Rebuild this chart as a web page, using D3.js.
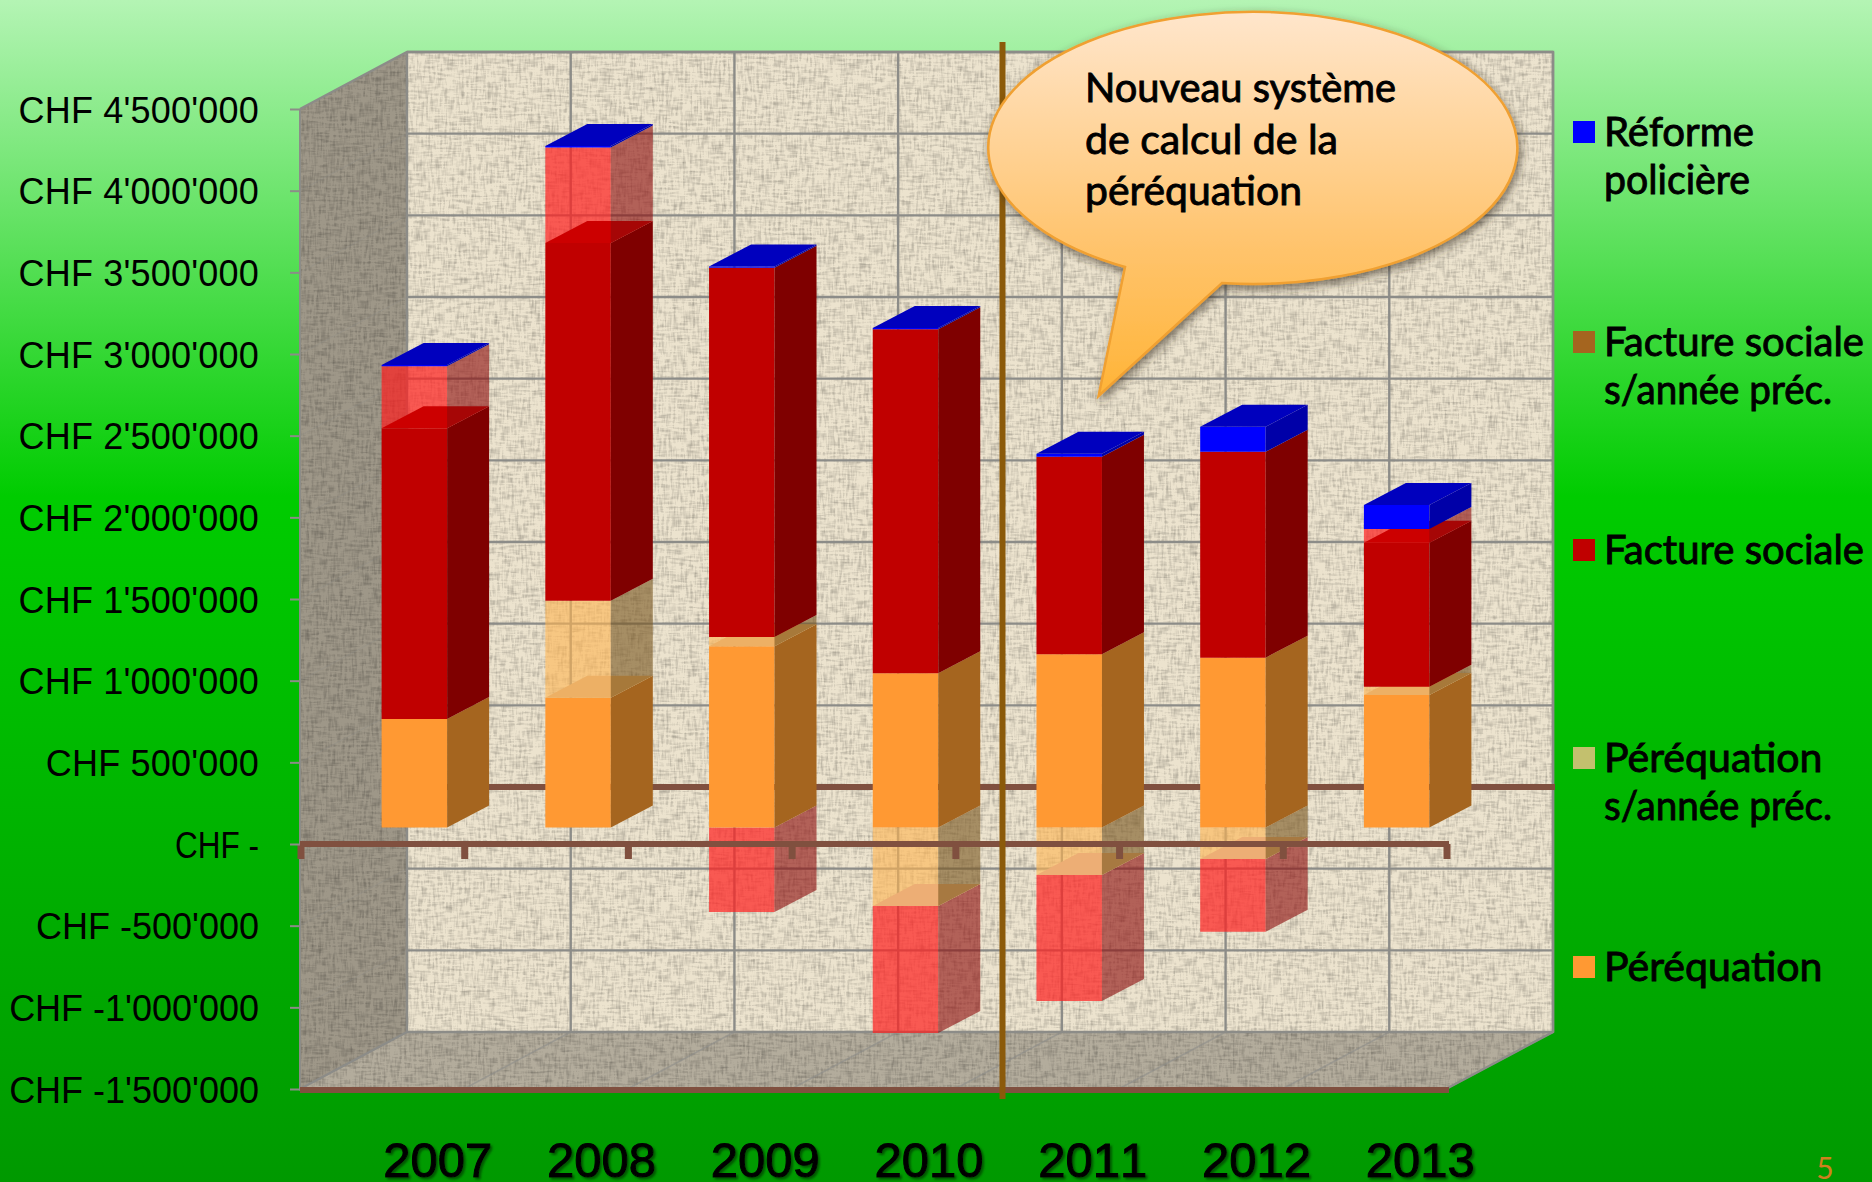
<!DOCTYPE html>
<html><head><meta charset="utf-8">
<script src="https://cdn.jsdelivr.net/npm/d3@7/dist/d3.min.js"></script>
<style>html,body{margin:0;padding:0;overflow:hidden}svg{display:block}</style>
</head><body><svg id="c" width="1872" height="1182"></svg>
<script>
const years = ["2007","2008","2009","2010","2011","2012","2013"];
const perequation      = [664000, 795000, 1110000, 945000, 1060000, 1040000, 811000];
const perequationPrev  = [0, 594000, 57000, -480000, -291000, -193000, 51000];
const factureSociale   = [1780000, 2190000, 2260000, 2105000, 1210000, 1260000, 882000];
const facturePrev      = [380000, 585000, -517000, -778000, -771000, -445000, 84000];
const reforme          = [8000, 8000, 8000, 8000, 18000, 153000, 147000];
const seriesKeys = ["per","perPrev","fac","facPrev","ref"];
const yTicks = [-1500000,-1000000,-500000,0,500000,1000000,1500000,2000000,2500000,3000000,3500000,4000000,4500000];
const legendItems = [
  {lines:["Réforme","policière"], color:"#0000FF", base:146},
  {lines:["Facture sociale","s/année préc."], color:"#A5651F", base:356},
  {lines:["Facture sociale"], color:"#C00000", base:564},
  {lines:["Péréquation","s/année préc."], color:"#C3C06E", base:772},
  {lines:["Péréquation"], color:"#FF9933", base:981}
];
const calloutLines = ["Nouveau système","de calcul de la","péréquation"];
const textWidths = {"Réforme":150,"policière":146,"Facture sociale":260,"s/année préc.":228,"Péréquation":218.5,
  "Nouveau système":311,"de calcul de la":253,"péréquation":217};

const style = {
  per:    {front:"#FF9933", side:"#A5651F", cap:"#EDB065"},
  perPrev:{front:"rgba(255,180,80,.6)", side:"rgba(120,85,30,.6)", cap:"#EDAE75", light:true},
  fac:    {front:"#C00000", side:"#7F0000", cap:"#CC0000"},
  facPrev:{front:"rgba(255,30,30,.7)", side:"rgba(140,10,10,.6)", cap:"#EDAE75", light:true},
  ref:    {front:"#0000FF", side:"#0000A8", cap:"#0000BE"}
};

const svg = d3.select("#c");
const defs = svg.append("defs");
const W=1872,H=1182;

const bg = defs.append("linearGradient").attr("id","bg").attr("x1",0).attr("x2",0).attr("y1",0).attr("y2",1);
[[0,"#B4F4B4"],[.42,"#00CC00"],[1,"#009900"]].forEach(s=>bg.append("stop").attr("offset",s[0]).attr("stop-color",s[1]));
const cg = defs.append("linearGradient").attr("id","cg").attr("x1",0).attr("x2",0).attr("y1",0).attr("y2",1);
[[0,"#FFE6CC"],[.6,"#FFC46E"],[1,"#FFB437"]].forEach(s=>cg.append("stop").attr("offset",s[0]).attr("stop-color",s[1]));

defs.append("filter").attr("id","weave").attr("x",0).attr("y",0).attr("width",1).attr("height",1)
  .attr("color-interpolation-filters","sRGB")
  .html(`<feTurbulence type="fractalNoise" baseFrequency="0.07 0.42" numOctaves="2" seed="3" result="h"/>
  <feTurbulence type="fractalNoise" baseFrequency="0.42 0.07" numOctaves="2" seed="8" result="v"/>
  <feComposite in="h" in2="v" operator="arithmetic" k2=".5" k3=".5" result="n"/>
  <feColorMatrix in="n" type="matrix" values="0.7 0 0 0 .6  0.7 0 0 0 .6  0.7 0 0 0 .6  0 0 0 0 1" result="g"/>
  <feComposite in="SourceGraphic" in2="g" operator="arithmetic" k1="1" result="m"/>
  <feComposite in="m" in2="SourceAlpha" operator="in"/>`);
defs.append("filter").attr("id","shadow").attr("x","-10%").attr("y","-10%").attr("width","120%").attr("height","125%")
  .html(`<feDropShadow dx="2" dy="4" stdDeviation="5" flood-color="#3a3020" flood-opacity=".65"/>`);
defs.append("filter").attr("id","lblShadow").attr("x","-10%").attr("y","-10%").attr("width","120%").attr("height","130%")
  .html(`<feDropShadow dx="2" dy="2" stdDeviation="1" flood-color="#004400" flood-opacity=".8"/>`);

svg.append("rect").attr("width",W).attr("height",H).attr("fill","url(#bg)");

// scales
const x = d3.scaleBand().domain(years).range([300,1446]);
const y = d3.scaleLinear().domain([-1500000,4500000]).range([1089,109]);
const depthX=107, depthY=-57;          // whole floor depth
const barW = x.bandwidth()*0.4, barDX=42, barDY=-22;
const barShiftX=(depthX-barDX)/2, barShiftY=-16.5;
const left=x.range()[0], right=x.range()[1];
const line = d3.line();

// walls
const wy0=y.domain()[0], wy1=y.domain()[1];
const gWalls=svg.append("g");
gWalls.append("path").attr("d",line([[left+depthX,y(wy1)+depthY],[right+depthX,y(wy1)+depthY],[right+depthX,y(wy0)+depthY],[left+depthX,y(wy0)+depthY]])+"Z")
  .attr("fill","#ECE3CE").attr("filter","url(#weave)");
gWalls.append("path").attr("d",line([[left,y(wy1)],[left+depthX,y(wy1)+depthY],[left+depthX,y(wy0)+depthY],[left,y(wy0)]])+"Z")
  .attr("fill","#9E9788").attr("filter","url(#weave)");
gWalls.append("path").attr("d",line([[left,y(wy0)],[right,y(wy0)],[right+depthX,y(wy0)+depthY],[left+depthX,y(wy0)+depthY]])+"Z")
  .attr("fill","#B3AC9C").attr("filter","url(#weave)");

// grid
const gGrid=svg.append("g").attr("fill","none");
yTicks.filter(t=>t!==0).forEach(t=>{
  gGrid.append("path").attr("d",line([[left+depthX,y(t)+depthY],[right+depthX,y(t)+depthY]])).attr("stroke","#8C8C88").attr("stroke-width",2.4);
  gGrid.append("path").attr("d",line([[left,y(t)],[left+depthX,y(t)+depthY]])).attr("stroke","#8C8C88").attr("stroke-width",1).attr("opacity",.3);
});
const xEdges=years.map(d=>x(d)).concat([right]);
xEdges.forEach(e=>{
  gGrid.append("path").attr("d",line([[e+depthX,y(wy1)+depthY],[e+depthX,y(wy0)+depthY]])).attr("stroke","#8C8C88").attr("stroke-width",2.4);
  gGrid.append("path").attr("d",line([[e,y(wy0)],[e+depthX,y(wy0)+depthY]])).attr("stroke","#8C8C88").attr("stroke-width",1.5).attr("opacity",.6);
});
gGrid.append("path").attr("d",line([[left,y(wy1)],[left+depthX,y(wy1)+depthY],[right+depthX,y(wy1)+depthY],[right+depthX,y(wy0)+depthY],[right,y(wy0)]])).attr("stroke","#8C8C88").attr("stroke-width",2.5);
gGrid.append("path").attr("d",line([[left,y(wy1)],[left,y(wy0)],[left+depthX,y(wy0)+depthY]])).attr("stroke","#8C8C88").attr("stroke-width",2);
gGrid.append("path").attr("d",line([[left+depthX,y(wy1)+depthY],[left+depthX,y(wy0)+depthY]])).attr("stroke","#8C8C88").attr("stroke-width",2);

// back zero line
const brown="#80503F";
svg.append("path").attr("d",line([[left+depthX,y(0)+depthY],[right+depthX+2,y(0)+depthY]])).attr("stroke",brown).attr("stroke-width",6);

// stacked data
const rows = years.map((yr,i)=>({year:yr,per:perequation[i],perPrev:perequationPrev[i],fac:factureSociale[i],facPrev:facturePrev[i],ref:reforme[i]}));
const stacked = d3.stack().keys(seriesKeys).offset(d3.stackOffsetDiverging)(rows);

// bars
const gBars=svg.append("g");
function geom(i,v0,v1){
  const xl=x(years[i])+(x.bandwidth()-barW)/2+barShiftX, xr=xl+barW;
  const yb=y(v0)+barShiftY, yt=y(v1)+barShiftY;
  return {
    front:[[xl,yt],[xr,yt],[xr,yb],[xl,yb]],
    side:[[xr,yt],[xr+barDX,yt+barDY],[xr+barDX,yb+barDY],[xr,yb]],
    cap:[[xl,yt],[xr,yt],[xr+barDX,yt+barDY],[xl+barDX,yt+barDY]]
  };
}
const poly=(g,pts,fill)=>g.append("path").attr("d",line(pts)+"Z").attr("fill",fill);
years.forEach((yr,i)=>{
  const g=gBars.append("g");
  const segs=stacked.map(s=>({key:s.key,lo:s[i][0],hi:s[i][1]})).filter(s=>s.hi!==s.lo);
  const neg=segs.filter(s=>s.lo<0).sort((a,b)=>a.lo-b.lo);   // bottom-most first
  const pos=segs.filter(s=>s.lo>=0);
  neg.forEach((s,j)=>{
    const st=style[s.key], m=geom(i,s.lo,s.hi);
    poly(g,m.front,st.front);
    if(j>0){const p=neg[j-1]; poly(g,geom(i,p.lo,p.hi).cap,style[p.key].cap);}
    poly(g,m.side,st.side);
  });
  pos.forEach((s,j)=>{
    const st=style[s.key], m=geom(i,s.lo,s.hi);
    poly(g,m.front,st.front);
    const p=pos[j-1];
    if(p&&st.light) poly(g,geom(i,p.lo,p.hi).cap,style[p.key].cap);
    poly(g,m.side,st.side);
    if(j===pos.length-1) poly(g,m.cap,st.cap);
  });
});

// front zero axis + bottom line
const gF=svg.append("g");
gF.append("path").attr("d",line([[left,y(0)],[right+3,y(0)]])).attr("stroke",brown).attr("stroke-width",6);
xEdges.forEach(e=>gF.append("path").attr("d",line([[e+1,y(0)],[e+1,y(0)+15]])).attr("stroke",brown).attr("stroke-width",7));
gF.append("path").attr("d",line([[left,y(wy0)+1],[right+3,y(wy0)+1]])).attr("stroke",brown).attr("stroke-width",6);

// value axis
const yAxis=d3.axisLeft(y).tickValues(yTicks).tickSize(10).tickPadding(31)
  .tickFormat(v=>v===0?"CHF -":"CHF "+d3.format(",")(v).replace(/,/g,"'").replace("\u2212","-"));
const ga=svg.append("g").attr("transform",`translate(${left},0)`).call(yAxis);
ga.select(".domain").remove();
ga.selectAll("line").attr("stroke","#8C8C88").attr("stroke-width",2);
ga.selectAll("text").attr("font-family","'Liberation Sans',Arial,sans-serif").attr("font-size",36).attr("fill","#000").attr("dy","0.37em")
  .attr("letter-spacing",d=>d>0?0.2:0)
  .each(function(d){ if(d===0) d3.select(this).attr("textLength",84).attr("lengthAdjust","spacingAndGlyphs"); });

// separator
svg.append("path").attr("d",line([[1002.5,42],[1002.5,1099]])).attr("stroke","#8B5A0A").attr("stroke-width",6);

// callout
const cGroup=svg.append("g");
cGroup.append("path").attr("d","M1125,267 L1098.6,396 L1222,283 A264.5 136 0 1 0 1125,267 Z")
  .attr("fill","url(#cg)").attr("stroke","#F0A030").attr("stroke-width",2.5).attr("stroke-linejoin","miter").attr("filter","url(#shadow)");
const fontT="Lato,'Noto Sans',sans-serif";
cGroup.selectAll("text").data(calloutLines).join("text")
  .attr("x",1085).attr("y",(d,i)=>102+i*51.5).text(d=>d)
  .attr("textLength",d=>textWidths[d]).attr("lengthAdjust","spacingAndGlyphs")
  .attr("font-family",fontT).attr("font-size",40).attr("fill","#000").attr("stroke","#000").attr("stroke-width",.9);

// legend
const gL=svg.append("g");
legendItems.forEach(it=>{
  gL.append("rect").attr("x",1573).attr("y",it.base-25).attr("width",22).attr("height",22).attr("fill",it.color);
  it.lines.forEach((t,j)=>gL.append("text").attr("x",1604).attr("y",it.base+j*47.5).text(t)
    .attr("textLength",textWidths[t]).attr("lengthAdjust","spacingAndGlyphs")
    .attr("font-family",fontT).attr("font-size",40).attr("fill","#000").attr("stroke","#000").attr("stroke-width",.9));
});

// category labels
svg.append("g").selectAll("text").data(years).join("text")
  .attr("x",d=>x(d)+x.bandwidth()/2+56).attr("y",1177).attr("text-anchor","middle").text(d=>d)
  .style("font-kerning","none")
  .attr("font-family","'Liberation Sans',Arial,sans-serif").attr("font-size",49).attr("fill","#000")
  .attr("stroke","#000").attr("stroke-width",1).attr("filter","url(#lblShadow)");

// page number
svg.append("text").attr("x",1825).attr("y",1179).attr("text-anchor","middle").text("5")
  .attr("font-family",fontT).attr("font-size",30).attr("fill","#D0801E");
</script></body></html>
